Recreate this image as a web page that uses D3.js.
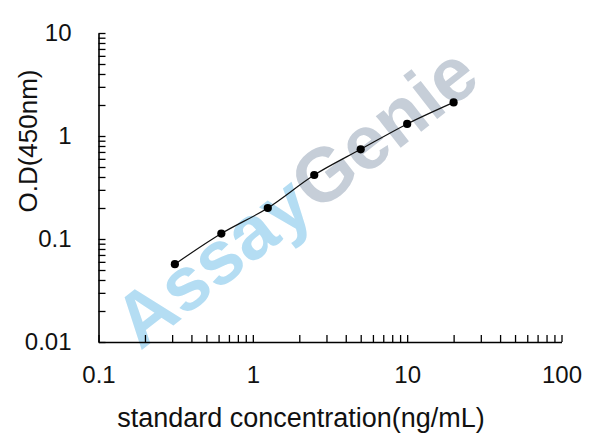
<!DOCTYPE html>
<html>
<head>
<meta charset="utf-8">
<script src="https://cdn.jsdelivr.net/npm/d3@7"></script>
<style>
  html, body { margin: 0; padding: 0; background: #fff; }
  svg text { font-family: "Liberation Sans", Arial, sans-serif; fill: #111; }
</style>
</head>
<body>
<svg id="chart" width="590" height="440"></svg>
<script>
// standard curve data
const concentration = [0.3125, 0.625, 1.25, 2.5, 5, 10, 20]
const opticalDensity = [0.057, 0.113, 0.2, 0.418, 0.743, 1.31, 2.12]

const xMajorTicks = [0.1, 1, 10, 100]
const xTickLabels = ["0.1", "1", "10", "100"]
const yMajorTicks = [0.01, 0.1, 1, 10]
const yTickLabels = ["0.01", "0.1", "1", "10"]

const xTitle = "standard concentration(ng/mL)"
const yTitle = "O.D(450nm)"

const svg = d3.select("#chart")

// plot area
const plotLeft = 98.5, plotRight = 561.5, plotTop = 33, plotBottom = 342

const x = d3.scaleLog().domain([0.1, 100]).range([plotLeft, plotRight])
const y = d3.scaleLog().domain([0.01, 10]).range([plotBottom, plotTop])

// minor ticks 2..9 in each decade plus the majors
function logTicks(majors) {
  const all = []
  majors.forEach((m, i) => {
    all.push(m)
    if (i < majors.length - 1) for (let k = 2; k <= 9; k++) all.push(+(m * k).toPrecision(3))
  })
  return all
}

// watermark behind everything
const wm = svg.append("g")
  .attr("transform", "translate(295,196) rotate(-38)")
const wmText = wm.append("text")
  .attr("text-anchor", "middle")
  .attr("y", 27)
  .style("font-size", "76px")
  .style("font-weight", "bold")
wmText.append("tspan").style("fill", "#b4ddf3").text("Assay")
wmText.append("tspan").style("fill", "#c6ced8").text("Genie")

// x axis
const xAxis = d3.axisBottom(x)
  .tickValues(logTicks(xMajorTicks))
  .tickFormat(d => {
    const i = xMajorTicks.indexOf(d)
    return i >= 0 ? xTickLabels[i] : ""
  })
  .tickSizeInner(-7)
  .tickSizeOuter(0)
  .tickPadding(24)

const gx = svg.append("g")
  .attr("transform", `translate(0,${plotBottom})`)
  .call(xAxis)
gx.select(".domain").attr("stroke", "#000").attr("stroke-width", 1.6)
gx.selectAll(".tick line").attr("stroke", "#000").attr("stroke-width", 1.3)
gx.selectAll(".tick text").style("font-size", "24px").attr("fill", "#111")

// y axis
const yAxis = d3.axisLeft(y)
  .tickValues(logTicks(yMajorTicks))
  .tickFormat(d => {
    const i = yMajorTicks.indexOf(d)
    return i >= 0 ? yTickLabels[i] : ""
  })
  .tickSizeInner(-7)
  .tickSizeOuter(0)
  .tickPadding(27)

const gy = svg.append("g")
  .attr("transform", `translate(${plotLeft},0)`)
  .call(yAxis)
gy.select(".domain").attr("stroke", "#000").attr("stroke-width", 1.6)
gy.selectAll(".tick line").attr("stroke", "#000").attr("stroke-width", 1.3)
gy.selectAll(".tick text").style("font-size", "24px").attr("fill", "#111")

// axis titles
svg.append("text")
  .attr("x", 301)
  .attr("y", 427)
  .attr("text-anchor", "middle")
  .style("font-size", "27px")
  .text(xTitle)

svg.append("text")
  .attr("transform", "translate(37,141) rotate(-90)")
  .attr("text-anchor", "middle")
  .style("font-size", "26px")
  .text(yTitle)

// fitted curve + points
const points = concentration.map((c, i) => ({ c, od: opticalDensity[i] }))

const line = d3.line()
  .x(d => x(d.c))
  .y(d => y(d.od))
  .curve(d3.curveCatmullRom.alpha(0.5))

svg.append("path")
  .datum(points)
  .attr("fill", "none")
  .attr("stroke", "#111")
  .attr("stroke-width", 1.2)
  .attr("d", line)

svg.append("g")
  .selectAll("circle")
  .data(points)
  .enter()
  .append("circle")
  .attr("cx", d => x(d.c))
  .attr("cy", d => y(d.od))
  .attr("r", 4.1)
  .attr("fill", "#000")
</script>
</body>
</html>
